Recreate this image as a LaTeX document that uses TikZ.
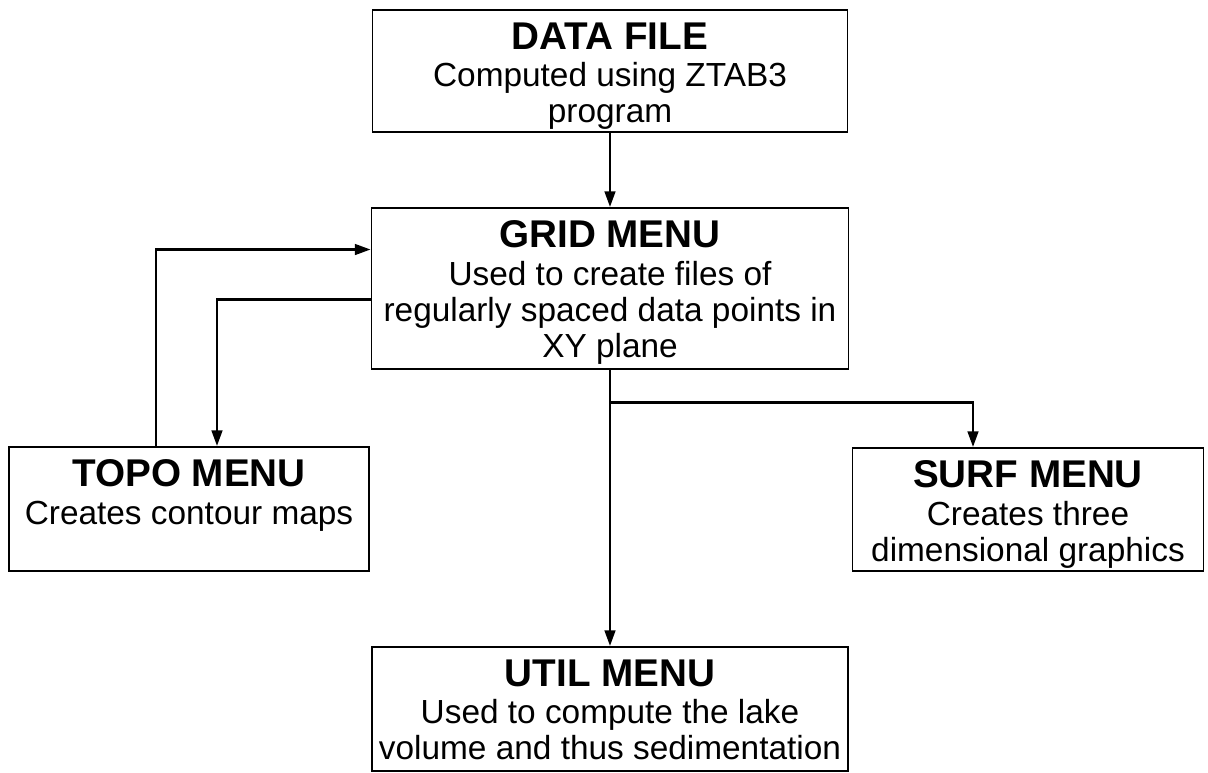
\documentclass[tikz,border=0pt]{standalone}
\usepackage{fontspec}
\setmainfont{Liberation Sans}
\usetikzlibrary{arrows.meta, positioning, calc}

\begin{document}
\begin{tikzpicture}[x=0.02cm, y=-0.02cm,
        menubox/.style={rectangle, draw, line width=1pt},
        boxtext/.style={anchor=north, inner sep=0pt, align=center, font=\fontsize{19}{20.5}\selectfont},
        arrow/.style={-{Triangle[length=9pt, width=6pt]}, line width=1.6pt}
    ]
        \useasboundingbox (0,0) rectangle (1208,772);
        % boxes
        \node[menubox, minimum width=9.5cm, minimum height=2.44cm] (data) at (610,71) {};
        \node[menubox, minimum width=9.54cm, minimum height=3.22cm] (grid) at (610,288.5) {};
        \node[menubox, minimum width=7.2cm, minimum height=2.48cm] (topo) at (189,509) {};
        \node[menubox, minimum width=7.02cm, minimum height=2.46cm] (surf) at (1028,509.5) {};
        \node[menubox, minimum width=9.52cm, minimum height=2.48cm] (util) at (610,709) {};
        % texts
        \node[boxtext] (datatext) at ([yshift=-0.26cm]data.north) {{\fontsize{22}{22}\selectfont\bfseries DATA FILE}\\[1pt]Computed using ZTAB3\\program};
        \node[boxtext] (gridtext) at ([yshift=-0.26cm]grid.north) {{\fontsize{22}{22}\selectfont\bfseries GRID MENU}\\[1pt]Used to create files of\\regularly spaced data points in\\XY plane};
        \node[boxtext] (topotext) at ([yshift=-0.26cm]topo.north) {{\fontsize{22}{22}\selectfont\bfseries TOPO MENU}\\[1pt]Creates contour maps};
        \node[boxtext] (surftext) at ([yshift=-0.26cm]surf.north) {{\fontsize{22}{22}\selectfont\bfseries SURF MENU}\\[1pt]Creates three\\dimensional graphics};
        \node[boxtext] (utiltext) at ([yshift=-0.26cm]util.north) {{\fontsize{22}{22}\selectfont\bfseries UTIL MENU}\\[1pt]Used to compute the lake\\volume and thus sedimentation};
        % connectors
        \draw[arrow] (data) -- (grid);
        \draw[arrow] ([xshift=-0.66cm]topo.north) |- ([yshift=0.78cm]grid.west);
        \draw[arrow] ([yshift=-0.22cm]grid.west) -| ([xshift=0.56cm]topo.north);
        \draw[arrow] (grid) -- (util);
        \draw[arrow] ([yshift=-0.66cm]grid.south) -| ([xshift=-1.1cm]surf.north);
    \end{tikzpicture}
\end{document}
